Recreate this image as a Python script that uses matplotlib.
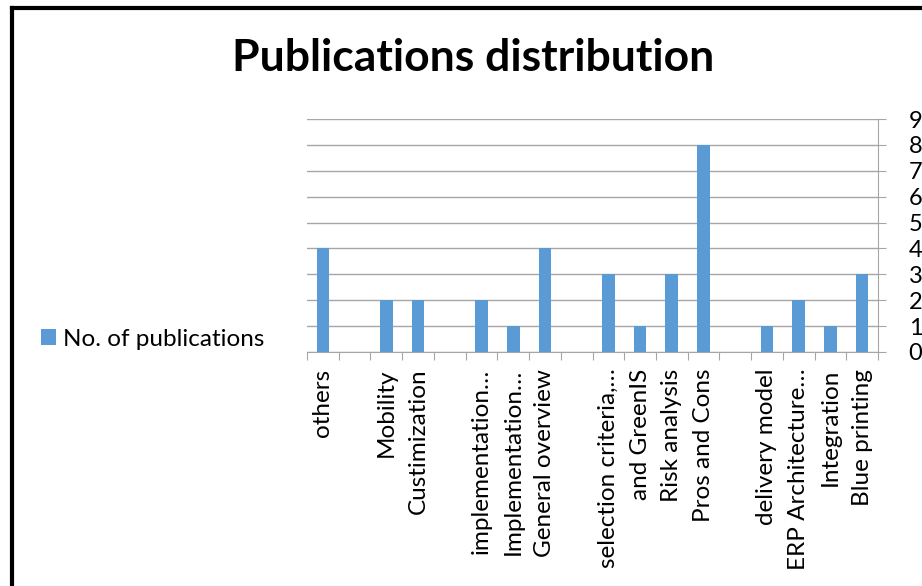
import matplotlib
matplotlib.use("Agg")
import matplotlib.pyplot as plt
from matplotlib.lines import Line2D
import numpy as np

# Categorias (rotulos ja truncados como no grafico original)
categorias = ["others", "", "Mobility", "Custimization", "",
              "implementation…", "Implementation…", "General overview", "",
              "selection criteria,…", "and GreenIS", "Risk analysis", "Pros and Cons", "",
              "delivery model", "ERP Architecture…", "Integration", "Blue printing"]
publicacoes = [4, 0, 2, 2, 0, 2, 1, 4, 0, 3, 1, 3, 8, 0, 1, 2, 1, 3]
yticks = list(range(0, 10))

AZUL = "#5B9BD5"
CINZA = "#A6A6A6"

plt.rcParams["font.family"] = ["Lato", "DejaVu Sans"]

fig = plt.figure(figsize=(9.22, 5.86), dpi=100)
ax = fig.add_axes([307 / 922, 1 - 352 / 586, 571 / 922, 233 / 586])

x = np.arange(len(categorias))
ax.bar(x, publicacoes, 0.4, color=AZUL, label="No. of publications", zorder=3)

ax.set_xlim(-0.5, len(categorias) - 0.5)
ax.set_ylim(0, 9)
ax.set_yticks(yticks)
ax.yaxis.tick_right()
ax.grid(True, axis="y", color=CINZA, lw=1, zorder=0)

# ticks do eixo x entre as categorias, rotulos no centro
ax.set_xticks(np.arange(len(categorias) + 1) - 0.5)
ax.set_xticklabels([])
ax.set_xticks(x, minor=True)
ax.set_xticklabels(categorias, minor=True, rotation=90, fontsize=17.5)
ax.tick_params(axis="x", which="major", length=6, color=CINZA, direction="out")
ax.tick_params(axis="x", which="minor", length=0, pad=12)
ax.tick_params(axis="y", length=6, color=CINZA, pad=16, labelsize=17)

for lado in ["top", "left"]:
    ax.spines[lado].set_visible(False)
for lado in ["bottom", "right"]:
    ax.spines[lado].set_color(CINZA)

fig.legend(loc="center left", bbox_to_anchor=(41 / 922, 1 - 339 / 586),
           frameon=False, fontsize=17.5, handlelength=0.62, handleheight=0.62,
           handletextpad=0.3, borderpad=0, borderaxespad=0)

fig.text(473 / 922, 1 - 58 / 586, "Publications distribution", ha="center", va="center",
         fontsize=32, fontweight="bold")

# moldura preta (esquerda e topo)
fig.add_artist(Line2D([12 / 922, 12 / 922], [0, 1 - 8 / 586], color="black", lw=3,
                      transform=fig.transFigure))
fig.add_artist(Line2D([12 / 922, 1], [1 - 8 / 586, 1 - 8 / 586], color="black", lw=3,
                      transform=fig.transFigure))

fig.savefig("out.png", dpi=100)
